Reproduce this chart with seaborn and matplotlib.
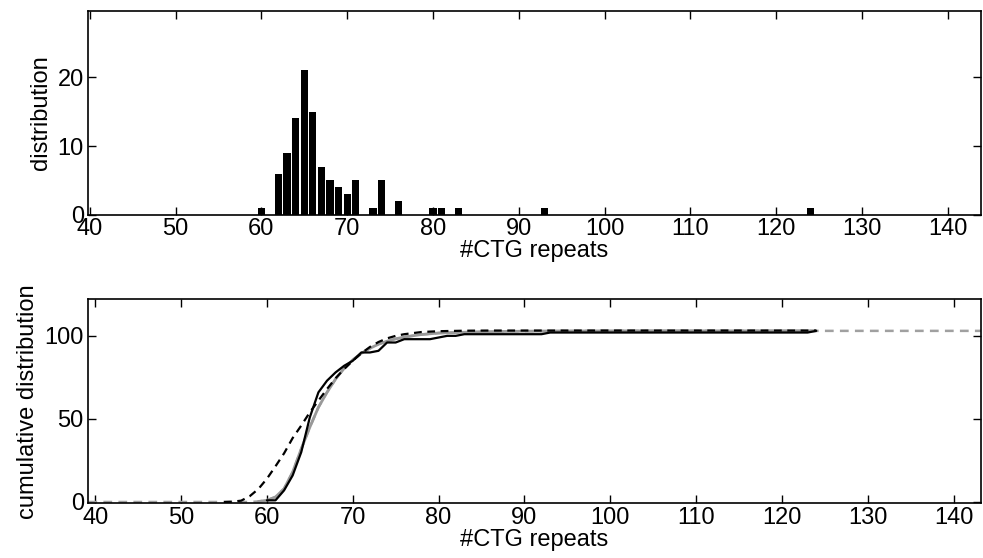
import numpy as np
import pandas as pd
import matplotlib
matplotlib.use("Agg")
import matplotlib.pyplot as plt
import seaborn as sns

# ---------------- data ----------------
repeat_bins = [60, 62, 63, 64, 65, 66, 67, 68, 69, 70, 71, 73, 74, 76, 80, 81, 83, 93, 124]
bin_counts = [1, 6, 9, 14, 21, 15, 7, 5, 4, 3, 5, 1, 5, 2, 1, 1, 1, 1, 1]

# fitted model (grey) cumulative curve
model_x = [39.2, 58, 59, 60, 61, 62, 63, 64, 65, 66, 67, 68, 69, 70, 71, 72, 73, 74,
           75, 76, 78, 80, 85, 90, 100, 124, 143.2]
model_y = [0, 0, 0.3, 1, 3, 8, 18, 32, 45, 57, 66, 74, 80.5, 85.5, 89.5, 92.5, 95, 96.8,
           98.2, 99.3, 100.8, 101.7, 102.5, 102.8, 103, 103, 103]

# alternative fit (black dashed) cumulative curve
alt_x = [55, 56, 57, 58, 59, 60, 61, 62, 63, 64, 65, 66, 67, 68, 69, 70, 71, 72, 73, 74,
         75, 76, 78, 80, 83, 86, 90, 100, 124]
alt_y = [0, 0.2, 0.8, 3.5, 7.8, 14, 21.5, 29.3, 38.5, 46, 54, 61, 68, 74.5, 80, 85, 89.5,
         93.3, 96.3, 98.5, 100, 101, 102.3, 102.8, 103.1, 103.2, 103.2, 103.2, 103.2]

top_yticks = [0, 10, 20]
bottom_yticks = [0, 50, 100]
xticks = [40, 50, 60, 70, 80, 90, 100, 110, 120, 130, 140]

# empirical cumulative counts on the integer grid
hist = pd.Series(bin_counts, index=repeat_bins)
grid = np.arange(min(repeat_bins), max(repeat_bins) + 1)
emp = hist.reindex(grid, fill_value=0).cumsum()
emp_df = pd.DataFrame({"x": grid, "y": emp.values})
model_df = pd.DataFrame({"x": model_x, "y": model_y})
model_mid = model_df[(model_df.x >= 59) & (model_df.x <= 124)]
alt_df = pd.DataFrame({"x": alt_x, "y": alt_y})
bar_df = pd.DataFrame({"x": repeat_bins, "n": bin_counts})

# ---------------- style ----------------
sns.set_style("ticks")
plt.rcParams["font.family"] = ["Liberation Sans", "DejaVu Sans"]
plt.rcParams.update({
    "font.size": 17,
    "text.color": "black", "axes.labelcolor": "black",
    "xtick.color": "black", "ytick.color": "black",
    "xtick.labelcolor": "black", "ytick.labelcolor": "black",
    "xtick.direction": "in", "ytick.direction": "in",
    "xtick.top": True, "ytick.right": True,
    "xtick.major.size": 6, "ytick.major.size": 6,
    "xtick.major.width": 1.0, "ytick.major.width": 1.0,
    "axes.linewidth": 1.2,
    "xtick.major.pad": 2.5, "ytick.major.pad": 3,
    "axes.edgecolor": "black",
})

fig = plt.figure(figsize=(9.83, 5.58), dpi=100)
ax1 = fig.add_axes([0.0895, 0.615, 0.908, 0.365])
ax2 = fig.add_axes([0.0895, 0.098, 0.908, 0.3656])

# top: histogram
sns.barplot(data=bar_df, x="x", y="n", native_scale=True, width=0.85,
            color="black", edgecolor="black", linewidth=0, ax=ax1)
ax1.set_xlim(39.8, 143.8)
ax1.set_ylim(0, 29.6)
ax1.set_xticks(xticks)
ax1.set_yticks(top_yticks)
ax1.set_xlabel("#CTG repeats", labelpad=0)
ax1.set_ylabel("distribution", labelpad=4)

# bottom: cumulative distributions
sns.lineplot(data=model_df, x="x", y="y", color="#a0a0a0", lw=1.8,
             linestyle=(0, (3.5, 2.5)), ax=ax2)
sns.lineplot(data=model_mid, x="x", y="y", color="#999999", lw=2.0, ax=ax2)
sns.lineplot(data=alt_df, x="x", y="y", color="black", lw=1.6,
             linestyle=(0, (3.5, 2.5)), ax=ax2)
sns.lineplot(data=emp_df, x="x", y="y", color="black", lw=1.6, ax=ax2)
ax2.set_xlim(39.15, 143.15)
ax2.set_ylim(-0.8, 122)
ax2.set_xticks(xticks)
ax2.set_yticks(bottom_yticks)
ax2.set_xlabel("#CTG repeats", labelpad=0)
ax2.set_ylabel("cumulative distribution", labelpad=4)

for ax in (ax1, ax2):
    for s in ax.spines.values():
        s.set_visible(True)
        s.set_color("black")

fig.savefig("out.png", dpi=100)
